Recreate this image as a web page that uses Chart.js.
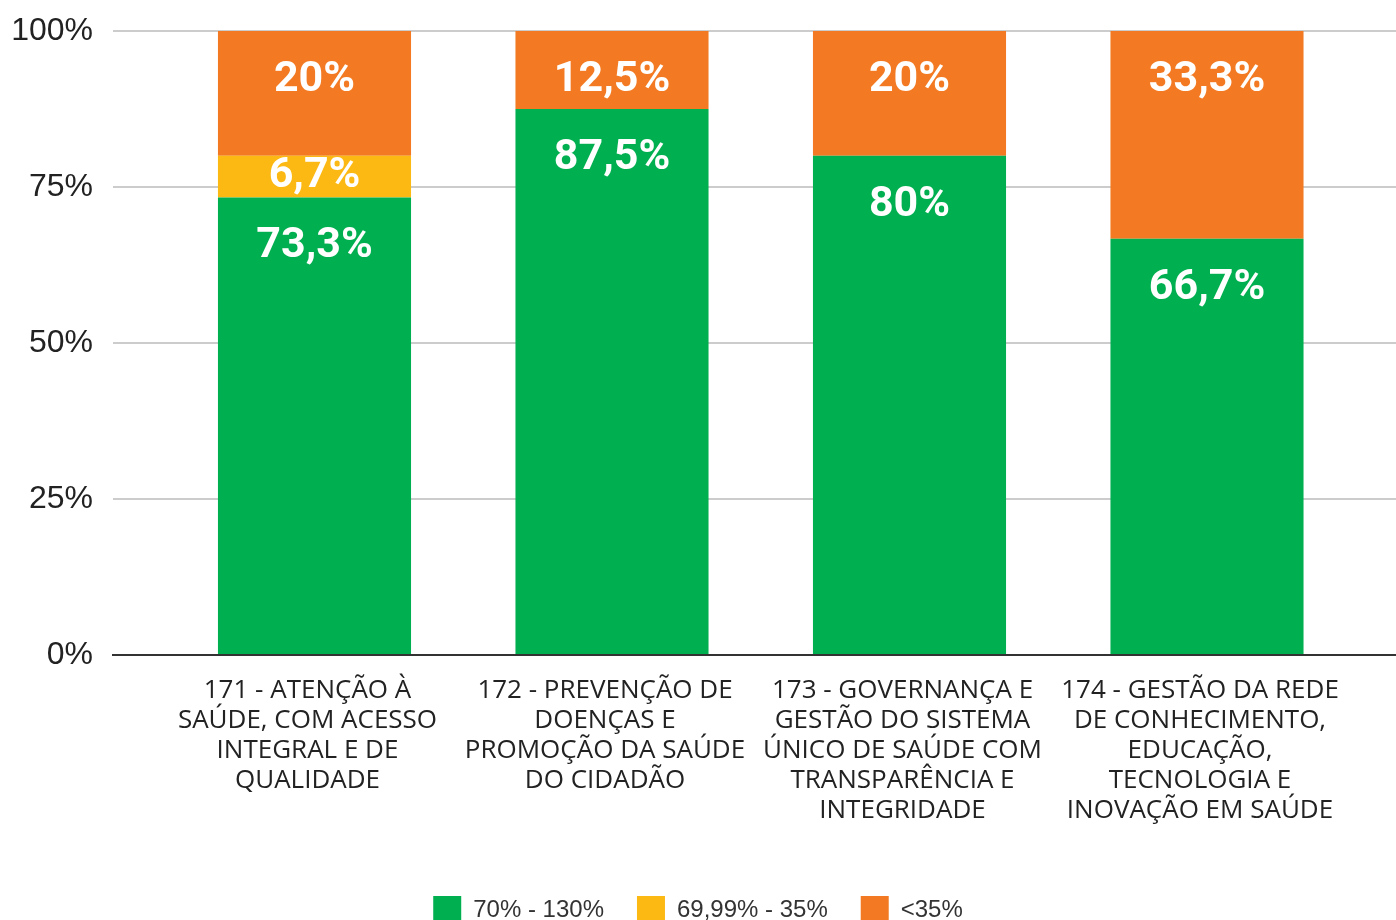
<!DOCTYPE html>
<html><head><meta charset="utf-8">
<script src="https://cdn.jsdelivr.net/npm/chart.js@4.4.0/dist/chart.umd.min.js"></script>
<style>html,body{margin:0;padding:0;background:#fff}#wrap{width:1396px;height:920px}</style>
</head><body><div id="wrap"><canvas id="c" width="1396" height="920"></canvas></div>
<script>
const categories = [
  ['171 - ATENÇÃO À', 'SAÚDE, COM ACESSO', 'INTEGRAL E DE', 'QUALIDADE'],
  ['172 - PREVENÇÃO DE', 'DOENÇAS E', 'PROMOÇÃO DA SAÚDE', 'DO CIDADÃO'],
  ['173 - GOVERNANÇA E', 'GESTÃO DO SISTEMA', 'ÚNICO DE SAÚDE COM', 'TRANSPARÊNCIA E', 'INTEGRIDADE'],
  ['174 - GESTÃO DA REDE', 'DE CONHECIMENTO,', 'EDUCAÇÃO,', 'TECNOLOGIA E', 'INOVAÇÃO EM SAÚDE']
];
const seriesNames = ['70% - 130%', '69,99% - 35%', '<35%'];
const green = [73.3, 87.5, 80, 66.7];
const yellow = [6.7, 0, 0, 0];
const orange = [20, 12.5, 20, 33.3];
const yTicks = [0, 25, 50, 75, 100];

const colors = ['#00B050', '#FDB913', '#F37A22'];
const toPts = arr => arr.map((v, i) => ({ x: i, y: v }));

const segLabels = {
  id: 'segLabels',
  afterDatasetsDraw(chart) {
    const ctx = chart.ctx;
    ctx.save();
    ctx.font = 'bold 43px Roboto';
    ctx.fillStyle = '#ffffff';
    ctx.textAlign = 'center';
    ctx.textBaseline = 'middle';
    chart.data.datasets.forEach((ds, di) => {
      const meta = chart.getDatasetMeta(di);
      meta.data.forEach((bar, i) => {
        const v = ds.data[i].y;
        if (!v) return;
        const top = Math.min(bar.y, bar.base), bottom = Math.max(bar.y, bar.base);
        const h = bottom - top;
        const y = h < 60 ? (top + bottom) / 2 : top + 49;
        ctx.fillText(String(v).replace('.', ',') + '%', bar.x, y);
      });
    });
    ctx.restore();
  }
};

new Chart(document.getElementById('c'), {
  type: 'bar',
  data: {
    datasets: [
      { label: seriesNames[0], data: toPts(green), backgroundColor: colors[0] },
      { label: seriesNames[1], data: toPts(yellow), backgroundColor: colors[1] },
      { label: seriesNames[2], data: toPts(orange), backgroundColor: colors[2] }
    ]
  },
  options: {
    responsive: false,
    animation: false,
    devicePixelRatio: 1,
    barPercentage: 0.649,
    categoryPercentage: 1,
    layout: { padding: { top: 31, right: 0, left: 0, bottom: -14 } },
    plugins: {
      tooltip: { enabled: false },
      legend: {
        position: 'bottom',
        labels: {
          boxWidth: 28, boxHeight: 28, padding: 33,
          color: '#333',
          font: { family: 'Liberation Sans', size: 24 }
        }
      }
    },
    scales: {
      x: {
        type: 'linear', stacked: true, offset: false,
        min: -0.6773, max: 3.6353,
        afterBuildTicks(s) { s.ticks = categories.map((c, i) => ({ value: i })); },
        afterFit(s) { s.height = 208; s.paddingLeft = 0; s.paddingRight = 0; },
        grid: { display: false, offset: false },
        border: { display: true, color: '#333', width: 2 },
        ticks: {
          autoSkip: false, maxRotation: 0, minRotation: 0,
          callback: v => categories[v],
          color: '#222', padding: 13, labelOffset: -7,
          font: { family: 'Open Sans', size: 26, lineHeight: 30 / 26 }
        }
      },
      y: {
        stacked: true, min: 0, max: 100,
        afterBuildTicks(s) { s.ticks = yTicks.map(v => ({ value: v })); },
        afterFit(s) { s.width = 113; s.paddingTop = 0; s.paddingBottom = 0; },
        grid: {
          drawTicks: false, lineWidth: 2,
          color: c => (c.tick && c.tick.value === 0) ? '#333' : '#cccccc'
        },
        border: { display: false },
        ticks: {
          callback: v => v + '%',
          color: '#222', padding: 20,
          font: { family: 'Liberation Sans', size: 32 }
        }
      }
    }
  },
  plugins: [segLabels]
});
</script></body></html>
